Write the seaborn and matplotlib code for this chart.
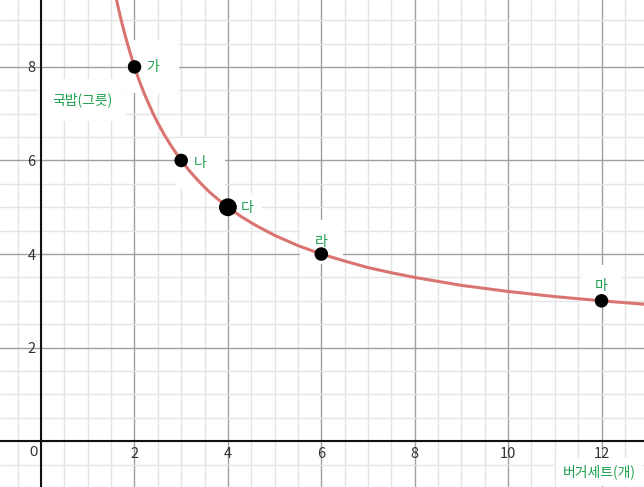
import numpy as np
import pandas as pd
import matplotlib
matplotlib.use('Agg')
import matplotlib.pyplot as plt
import seaborn as sns

# 점 데이터 (버거세트, 국밥)
burger = [2, 3, 4, 6, 12]
gukbap = [8, 6, 5, 4, 3]
point_names = ['가', '나', '다', '라', '마']
point_sizes = [95, 95, 165, 95, 95]

# 곡선 위에서 읽은 값
curve_x = [1.5, 1.55, 1.6, 1.7, 1.8, 1.9, 2, 2.1, 2.2, 2.3, 2.4, 2.5, 2.65, 2.8, 3, 3.2, 3.4,
           3.6, 3.8, 4, 4.3, 4.6, 5, 5.5, 6, 6.5, 7, 7.5, 8, 9, 10, 11, 12, 13]
curve_y = [10.0, 9.74, 9.5, 9.06, 8.67, 8.32, 8.0, 7.71, 7.45, 7.22, 7.0, 6.8, 6.53, 6.29,
           6.0, 5.75, 5.53, 5.33, 5.16, 5.0, 4.79, 4.61, 4.4, 4.18, 4.0, 3.85, 3.71, 3.6, 3.5,
           3.33, 3.2, 3.09, 3.0, 2.92]

x_ticks = [2, 4, 6, 8, 10, 12]
y_ticks = [2, 4, 6, 8]

sns.set_style('white')
plt.rcParams['font.family'] = ['Noto Sans CJK KR', 'DejaVu Sans']

green = '#1c9e4e'
num_font = ['Liberation Sans', 'DejaVu Sans']

fig = plt.figure(figsize=(6.44, 4.87), dpi=100)
ax = fig.add_axes([0, 0, 1, 1])
ax.set_xlim(-0.88, 12.91)
ax.set_ylim(-0.98, 9.43)

# 격자
ax.set_xticks(x_ticks)
ax.set_yticks(y_ticks)
ax.set_xticks(np.arange(-0.5, 13, 0.5), minor=True)
ax.set_yticks(np.arange(-0.5, 9.5, 0.5), minor=True)
ax.grid(which='minor', color='#e4e4e4', linewidth=1)
ax.grid(which='major', color='#a0a0a0', linewidth=1)
ax.set_axisbelow(True)
ax.tick_params(which='both', length=0)
ax.tick_params(axis='both', pad=4, labelsize=10.5, labelcolor='#333333')
for lab in ax.get_xticklabels() + ax.get_yticklabels():
    lab.set_family(num_font)

# 축
ax.spines['left'].set_position(('data', 0))
ax.spines['bottom'].set_position(('data', 0))
ax.spines['top'].set_visible(False)
ax.spines['right'].set_visible(False)
for s in ['left', 'bottom']:
    ax.spines[s].set_color('#111111')
    ax.spines[s].set_linewidth(1.5)
    ax.spines[s].set_zorder(2.5)
ax.annotate('0', (0, 0), xytext=(-8, -11), textcoords='offset pixels', ha='center', va='center',
            fontsize=10.5, color='#333333', family=num_font)

# 곡선과 점
df_curve = pd.DataFrame({'x': curve_x, 'y': curve_y})
sns.lineplot(data=df_curve, x='x', y='y', ax=ax, color='#da7470', linewidth=2.2, zorder=3,
             sort=False)
df_pts = pd.DataFrame({'x': burger, 'y': gukbap, 's': point_sizes})
sns.scatterplot(data=df_pts, x='x', y='y', size='s', sizes=(95, 165), ax=ax, color='black',
                edgecolor='black', linewidth=0, zorder=4, legend=False)
ax.set_xlabel('')
ax.set_ylabel('')

# 점 이름
offsets = [(12, 0, 'left', 1.4), (13, -3, 'left', 1.3), (13, -1, 'left', 0.6),
           (0, 12, 'center', 1.1), (0, 15, 'center', 1.0)]
box = dict(facecolor='white', edgecolor='none')
for x, y, name, (dx, dy, ha, pad) in zip(burger, gukbap, point_names, offsets):
    ax.annotate(name, (x, y), xytext=(dx, dy), textcoords='offset pixels', ha=ha, va='center',
                fontsize=10, color=green, zorder=2,
                bbox=dict(boxstyle=f'square,pad={pad}', **box))

# 축 이름
ax.annotate('국밥(그릇)', (0, 0), xycoords='axes pixels', xytext=(52, 487 - 100),
            textcoords='figure pixels', ha='left', va='center', fontsize=10, color=green,
            zorder=2, bbox=dict(boxstyle='square,pad=1.0', **box))
ax.annotate('버거세트(개)', (0, 0), xycoords='axes pixels', xytext=(636, 487 - 472),
            textcoords='figure pixels', ha='right', va='center', fontsize=10, color=green,
            zorder=2, bbox=dict(boxstyle='square,pad=0.5', **box))

fig.savefig('out.png', dpi=100)
